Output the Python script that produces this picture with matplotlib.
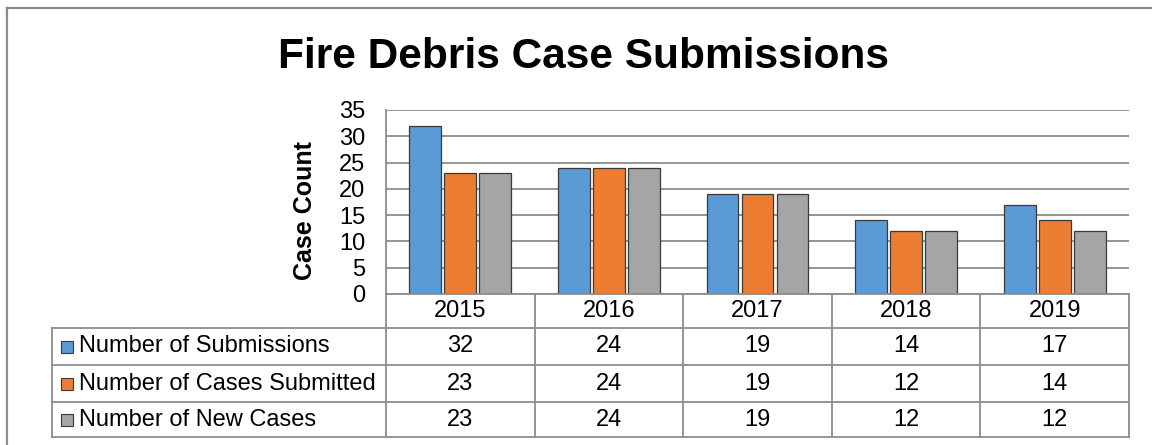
import numpy as np
import matplotlib
matplotlib.use('Agg')
import matplotlib.pyplot as plt
from matplotlib.patches import Rectangle
from matplotlib.lines import Line2D

# Data
years = ['2015', '2016', '2017', '2018', '2019']
series_names = ['Number of Submissions', 'Number of Cases Submitted', 'Number of New Cases']
submissions = [32, 24, 19, 14, 17]
cases_submitted = [23, 24, 19, 12, 14]
new_cases = [23, 24, 19, 12, 12]
colors = ['#5B9BD5', '#ED7D31', '#A5A5A5']

plt.rcParams['font.family'] = ['Liberation Sans', 'DejaVu Sans']

W, H = 1152, 445
fig = plt.figure(figsize=(W / 100, H / 100), dpi=100)

# helper: pixel coords (from top-left) -> figure fraction
def fx(x):
    return x / W

def fy(y):
    return 1 - y / H

line_col = '#8c8c8c'
fs = 17

# Plot area
ax_l, ax_r, ax_t, ax_b = 386, 1129, 110, 294
ax = fig.add_axes([fx(ax_l), fy(ax_b), (ax_r - ax_l) / W, (ax_b - ax_t) / H])

x = np.arange(len(years))
step = 0.2355
width = 0.213
for i, vals in enumerate([submissions, cases_submitted, new_cases]):
    ax.bar(x + (i - 1) * step, vals, width, color=colors[i], edgecolor='#3a3a3a',
           linewidth=0.9, zorder=3)

ax.set_xlim(-0.5, len(years) - 0.5)
ax.set_ylim(0, 35)
ax.set_yticks(range(0, 36, 5))
ax.set_xticks([])
ax.tick_params(axis='y', length=0, pad=15, labelsize=fs)
ax.grid(axis='y', color=line_col, linewidth=1.3, zorder=0)
for s in ['top', 'right', 'bottom']:
    ax.spines[s].set_visible(False)
ax.spines['left'].set_color(line_col)
ax.spines['left'].set_linewidth(1.3)

fig.text(fx(305), fy(211), 'Case Count', rotation=90, fontsize=18, fontweight='bold',
         ha='center', va='center')

fig.text(fx(583), fy(57), 'Fire Debris Case Submissions', fontsize=30.5, fontweight='bold',
         ha='center', va='center')

# Data table below the plot
col_edges = [ax_l + (ax_r - ax_l) * k / len(years) for k in range(len(years) + 1)]
tab_l = 52
row_edges = [294, 328, 365, 402, 437]

def hline(x0, x1, y):
    fig.add_artist(Line2D([fx(x0), fx(x1)], [fy(y), fy(y)], color=line_col, linewidth=1.3))

def vline(x, y0, y1):
    fig.add_artist(Line2D([fx(x), fx(x)], [fy(y0), fy(y1)], color=line_col, linewidth=1.3))

hline(ax_l, ax_r, row_edges[0])
for y in row_edges[1:]:
    hline(tab_l, ax_r, y)
vline(tab_l, row_edges[1], row_edges[-1])
for xe in col_edges:
    vline(xe, row_edges[0], row_edges[-1])

for j, yr in enumerate(years):
    xc = (col_edges[j] + col_edges[j + 1]) / 2
    fig.text(fx(xc), fy((row_edges[0] + row_edges[1]) / 2), yr, fontsize=fs,
             ha='center', va='center')

for i, vals in enumerate([submissions, cases_submitted, new_cases]):
    yc = (row_edges[i + 1] + row_edges[i + 2]) / 2
    fig.add_artist(Rectangle((fx(61), fy(yc + 6)), 11.5 / W, 11.5 / H, facecolor=colors[i],
                             edgecolor='#3a3a3a', linewidth=0.8))
    fig.text(fx(79), fy(yc), series_names[i], fontsize=fs, ha='left', va='center')
    for j, v in enumerate(vals):
        xc = (col_edges[j] + col_edges[j + 1]) / 2
        fig.text(fx(xc), fy(yc), str(v), fontsize=fs, ha='center', va='center')

# Outer chart border (cut off on the right and bottom)
fig.add_artist(Line2D([fx(7), fx(7)], [fy(8), fy(H + 5)], color=line_col, linewidth=1.6))
fig.add_artist(Line2D([fx(7), fx(W + 5)], [fy(8), fy(8)], color=line_col, linewidth=1.6))

fig.savefig('out.png', dpi=100)
